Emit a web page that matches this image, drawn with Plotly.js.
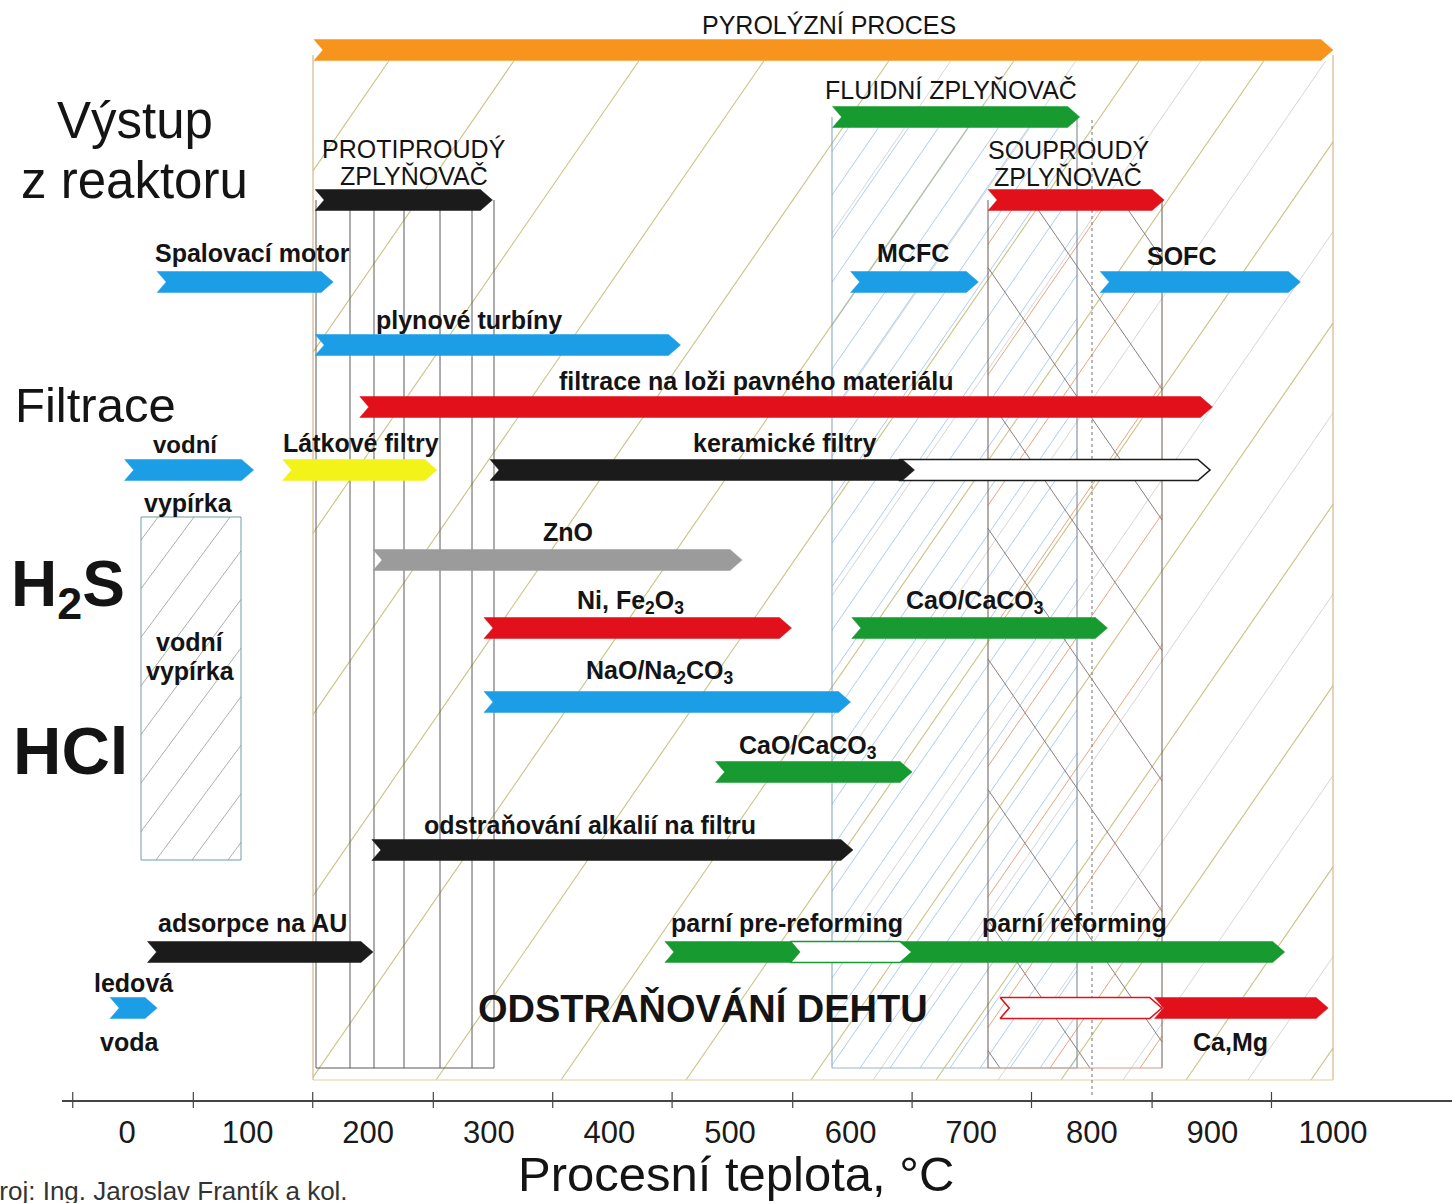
<!DOCTYPE html>
<html>
<head>
<meta charset="utf-8">
<script src="https://cdn.plot.ly/plotly-3.0.1.min.js"></script>
<style>
  html, body { margin: 0; padding: 0; background: #ffffff; }
  #chart { width: 1452px; height: 1203px; }
</style>
</head>
<body>
<div id="chart"></div>
<script>
// ================= DATA =================
// process bars (temperature ranges in °C), drawn in this order
const barName = [
  'PYROLÝZNÍ PROCES', 'FLUIDNÍ ZPLYŇOVAČ', 'PROTIPROUDÝ ZPLYŇOVAČ', 'SOUPROUDÝ ZPLYŇOVAČ',
  'Spalovací motor', 'MCFC', 'SOFC', 'plynové turbíny',
  'filtrace na loži pavného materiálu', 'vodní vypírka', 'Látkové filtry',
  'keramické filtry (rozšíření)', 'keramické filtry',
  'ZnO', 'Ni, Fe2O3', 'CaO/CaCO3 (H2S)', 'NaO/Na2CO3', 'CaO/CaCO3 (HCl)',
  'odstraňování alkalií na filtru', 'adsorpce na AU', 'ledová voda',
  'parní pre-reforming / parní reforming', 'parní pre-reforming (přechod)',
  'Ca,Mg', 'Ca,Mg (přechod)'
];
const barStart = [155, 585, 156, 714, 25, 600, 807, 156, 193, -2, 129, 640, 301, 204, 296, 601, 296, 488, 203, 17, -14, 446, 550, 852, 724];
const barEnd   = [1000, 790, 303, 860, 171, 706, 973, 459, 900, 105, 257, 898, 653, 510, 551, 813, 600, 651, 602, 204, 25, 960, 651, 996, 858];
const barRow   = ['pyro', 'fluid', 'gasif', 'gasif', 'use', 'use', 'use', 'turb', 'bed', 'filt', 'filt', 'filt', 'filt',
                  'zno', 'ni', 'ni', 'nao', 'cao', 'alk', 'reform', 'dehet', 'reform', 'reform', 'dehet', 'dehet'];

// axis tick labels and tick marks (°C)
const tickLabelVals = [0, 100, 200, 300, 400, 500, 600, 700, 800, 900, 1000];
const tickMarkVals = [-45, 55, 154, 254, 353, 452, 552, 651, 750, 850, 949];

// ================= STYLE / LAYOUT (not data) =================
const C = {
  orange: '#f7941d', green: '#179a30', red: '#e2101a', black: '#1b1b1b',
  blue: '#1c9ee6', yellow: '#f3f31a', gray: '#9b9b9b'
};
const barStyle = [
  {c: C.orange}, {c: C.green}, {c: C.black}, {c: C.red},
  {c: C.blue}, {c: C.blue}, {c: C.blue}, {c: C.blue},
  {c: C.red}, {c: C.blue}, {c: C.yellow},
  {c: C.black, outline: true}, {c: C.black},
  {c: C.gray}, {c: C.red}, {c: C.green}, {c: C.blue}, {c: C.green},
  {c: C.black}, {c: C.black}, {c: C.blue},
  {c: C.green}, {c: C.green, outline: true},
  {c: C.red}, {c: C.red, outline: true}
];
// vertical centre of each row, in the y axis' pixel-like units (0 = top)
const rowY = {pyro: 50, fluid: 117, gasif: 200, use: 282, turb: 345, bed: 407, filt: 470,
              zno: 560, ni: 628, nao: 702, cao: 772, alk: 850, reform: 952, dehet: 1008};

const PX0 = 127, PXPER = 1.206;               // pixel -> °C for decorations
const px2x = px => (px - PX0) / PXPER;

const FONT = 'Liberation Sans, Arial, Helvetica, sans-serif';

// ================= TRACES =================
const HH = 10.5, NOTCH = 7.5, HEAD = 10;
const traces = barName.map((nm, i) => {
  const st = barStyle[i];
  const yc = rowY[barRow[i]];
  const x0 = barStart[i], x1 = barEnd[i];
  return {
    type: 'scatter', mode: 'lines', name: nm,
    x: [x0, x1 - HEAD, x1, x1 - HEAD, x0, x0 + NOTCH, x0],
    y: [yc - HH, yc - HH, yc, yc + HH, yc + HH, yc, yc - HH],
    fill: 'toself',
    fillcolor: st.outline ? '#ffffff' : st.c,
    line: {color: st.c, width: st.outline ? 1.6 : 0.5},
    hoverinfo: 'text', text: nm, hoveron: 'fills', showlegend: false
  };
});

// ================= DECORATION SHAPES =================
const shapes = [];
function seg(xp0, y0, xp1, y1, color, width, dash, layer) {
  shapes.push({type: 'line', xref: 'x', yref: 'y', x0: px2x(xp0), y0: y0, x1: px2x(xp1), y1: y1,
               line: {color: color, width: width || 1, dash: dash || 'solid'}, layer: layer || 'below'});
}
function hatch(L, R, T, B, slope, spacing, xbAnchor, dir, color, width) {
  const H = B - T;
  for (let k = -80; k <= 80; k++) {
    const xb = xbAnchor + k * spacing;
    let lo, hi;
    if (dir > 0) { lo = slope * (L - xb); hi = slope * (R - xb); }
    else { lo = slope * (xb - R); hi = slope * (xb - L); }
    const u0 = Math.max(0, lo), u1 = Math.min(H, hi);
    if (u1 - u0 > 2) {
      seg(xb + dir * u0 / slope, B - u0, xb + dir * u1 / slope, B - u1, color, width);
    }
  }
}
// pyrolysis region hatching (olive)
hatch(313, 1333, 61, 1080, 1.45, 125, -64, 1, '#c9c386', 1.1);
// faint extra hatching on right part
hatch(832, 1333, 61, 1080, 1.45, 125, -2, 1, '#d6d6d6', 1);
// fluid gasifier: dense blue hatching
hatch(832, 1077, 127, 1068, 1.45, 30, 20, 1, 'rgba(120,170,225,0.75)', 0.8);
// co-current gasifier: cross hatching
hatch(988, 1162, 210, 1068, 1.45, 90, 1000, -1, '#7d7070', 0.9);
hatch(988, 1162, 210, 1068, 1.45, 90, 960, 1, '#e39a70', 0.9);
// water scrubber box hatching
hatch(141, 241, 517, 860, 1.35, 36, 120, 1, '#a9b0b0', 1);

// pyrolysis box
seg(313, 55, 313, 1080, '#d7b48e', 1.2);
seg(1333, 55, 1333, 1080, '#d7b48e', 1.2);
seg(313, 1080, 1333, 1080, '#e3cf9e', 1.2);
// counter-current gasifier box with vertical lines
[316, 350, 374, 404, 440, 472, 494].forEach(p => seg(p, 200, p, 1068, '#5a5a5a', 1));
seg(316, 1068, 494, 1068, '#5a5a5a', 1);
// fluid gasifier box
seg(832, 117, 832, 1068, '#7f9fc0', 1);
seg(1077, 117, 1077, 1068, '#6f7f90', 1);
seg(832, 1068, 1077, 1068, '#9fb4c8', 1);
// co-current gasifier box
seg(988, 200, 988, 1068, '#6b5a50', 1);
seg(1162, 200, 1162, 1068, '#6b5a50', 1);
seg(988, 1068, 1162, 1068, '#d89a80', 1);
// dotted 800 line
seg(1092, 120, 1092, 1098, '#8a8a8a', 1.2, 'dot');
// water scrubber box outline
shapes.push({type: 'rect', xref: 'x', yref: 'y', x0: px2x(141), x1: px2x(241), y0: 517, y1: 860,
             line: {color: '#6f9f9f', width: 1}, fillcolor: 'rgba(0,0,0,0)', layer: 'below'});

// axis tick marks crossing the axis line
tickMarkVals.forEach(v => shapes.push({type: 'line', xref: 'x', yref: 'paper', x0: v, x1: v,
  y0: -8 / 1100, y1: 8 / 1100, line: {color: '#444', width: 1.2}, layer: 'above'}));

// ================= ANNOTATIONS =================
const ann = [];
function lab(text, px, py, size, bold, color) {
  ann.push({text: text, xref: 'x', yref: 'y', x: px2x(px), y: py, showarrow: false,
            xanchor: 'center', yanchor: 'middle',
            font: {family: FONT, size: size, color: color || '#141414', weight: bold ? 'bold' : 'normal'}});
}
const LS = 25;   // bar label size
// gasifier / process titles
lab('PYROLÝZNÍ PROCES', 829, 25, 25, false);
lab('FLUIDNÍ ZPLYŇOVAČ', 951, 90, 25, false);
lab('PROTIPROUDÝ', 414, 149, 25, false);
lab('ZPLYŇOVAČ', 414, 176, 25, false);
lab('SOUPROUDÝ', 1068, 150, 25, false);
lab('ZPLYŇOVAČ', 1068, 177, 25, false);
// bar labels
lab('Spalovací motor', 252, 253, LS, true);
lab('MCFC', 913, 253, LS, true);
lab('SOFC', 1181, 256, LS, true);
lab('plynové turbíny', 469, 320, LS, true);
lab('filtrace na loži pavného materiálu', 756, 381, LS, true);
lab('vodní', 185, 444, 24, true);
lab('vypírka', 188, 503, LS, true);
lab('Látkové filtry', 361, 443, LS, true);
lab('keramické filtry', 785, 443, LS, true);
lab('vodní', 190, 642, LS, true);
lab('vypírka', 190, 671, LS, true);
lab('ZnO', 568, 532, LS, true);
lab('Ni, Fe<sub>2</sub>O<sub>3</sub>', 630, 602, LS, true);
lab('CaO/CaCO<sub>3</sub>', 975, 602, LS, true);
lab('NaO/Na<sub>2</sub>CO<sub>3</sub>', 660, 672, LS, true);
lab('CaO/CaCO<sub>3</sub>', 808, 747, LS, true);
lab('odstraňování alkalií na filtru', 590, 825, LS, true);
lab('adsorpce na AU', 252, 923, LS, true);
lab('ledová', 133, 983, LS, true);
lab('voda', 129, 1042, LS, true);
lab('parní pre-reforming', 787, 923, LS, true);
lab('parní reforming', 1074, 923, LS, true);
lab('Ca,Mg', 1230, 1042, LS, true);
lab('ODSTRAŇOVÁNÍ DEHTU', 703, 1008, 38, true);
// group titles on the left
lab('Výstup', 135, 120, 51, false);
lab('z reaktoru', 134, 180, 51, false);
lab('Filtrace', 95, 405, 49, false);
lab('H<sub>2</sub>S', 68, 588, 64, true);
lab('HCl', 70, 750, 67, true);
// axis title and source below the axis
ann.push({text: 'Procesní teplota, °C', xref: 'x', yref: 'paper', x: px2x(736), y: (1100 - 1174) / 1100,
          showarrow: false, xanchor: 'center', yanchor: 'middle', font: {family: FONT, size: 49, color: '#141414'}});
ann.push({text: 'Zdroj: Ing. Jaroslav Frantík a kol.', xref: 'x', yref: 'paper', x: px2x(350), y: (1100 - 1191) / 1100,
          showarrow: false, xanchor: 'right', yanchor: 'middle', font: {family: FONT, size: 26, color: '#333'}});

// ================= LAYOUT =================
const layout = {
  width: 1452, height: 1203, autosize: false,
  margin: {l: 62, r: 0, t: 0, b: 103, pad: 0},
  paper_bgcolor: '#ffffff', plot_bgcolor: '#ffffff',
  showlegend: false,
  xaxis: {
    range: [px2x(62), px2x(1452)], fixedrange: true,
    tickmode: 'array', tickvals: tickLabelVals, ticktext: tickLabelVals.map(String),
    ticks: '', showgrid: false, zeroline: false,
    showline: true, linecolor: '#444', linewidth: 1.5,
    tickfont: {family: FONT, size: 31, color: '#1a1a1a'},
    ticklabelstandoff: 4
  },
  yaxis: {range: [1100, 0], visible: false, fixedrange: true, showgrid: false, zeroline: false},
  shapes: shapes,
  annotations: ann,
  hovermode: 'closest'
};

Plotly.newPlot('chart', traces, layout, {displayModeBar: false, staticPlot: false});
</script>
</body>
</html>
